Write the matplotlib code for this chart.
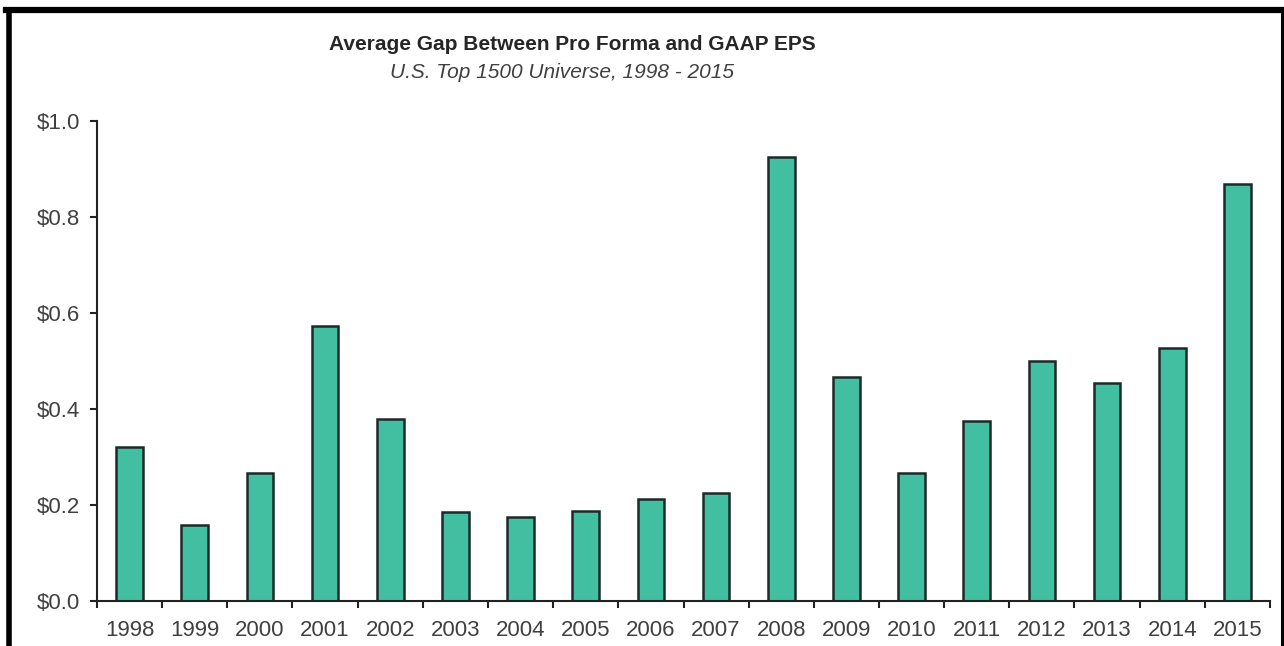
import numpy as np
import matplotlib
matplotlib.use("Agg")
import matplotlib.pyplot as plt
from matplotlib.lines import Line2D
from matplotlib.ticker import FuncFormatter

years = ["1998", "1999", "2000", "2001", "2002", "2003", "2004", "2005", "2006",
         "2007", "2008", "2009", "2010", "2011", "2012", "2013", "2014", "2015"]
gap = [0.32, 0.158, 0.267, 0.573, 0.379, 0.185, 0.175, 0.188, 0.212,
       0.225, 0.925, 0.467, 0.267, 0.375, 0.50, 0.454, 0.527, 0.869]
yticks = [0.0, 0.2, 0.4, 0.6, 0.8, 1.0]

plt.rcParams['font.family'] = ['Liberation Sans', 'DejaVu Sans']

W, H = 1284, 646
fig = plt.figure(figsize=(W / 100, H / 100), dpi=100)
ax = fig.add_axes([97 / W, 1 - 601 / H, (1270 - 97) / W, (601 - 121) / H])

x = np.arange(len(years))
ax.bar(x, gap, width=0.41, color='#42BFA0', edgecolor='#1c2b28', linewidth=1.8)

ax.set_xlim(-0.5, len(years) - 0.5)
ax.set_ylim(0, 1.0)
ax.set_yticks(yticks)
ax.yaxis.set_major_formatter(FuncFormatter(lambda v, p: "${:.1f}".format(v)))

# category labels centred under bars, tick marks between categories
ax.set_xticks(np.arange(len(years) + 1) - 0.5)
ax.set_xticklabels([])
ax.set_xticks(x, minor=True)
ax.set_xticklabels(years, minor=True)
ax.tick_params(axis='x', which='minor', length=0, pad=14, labelsize=16, labelcolor='#404040')
ax.tick_params(axis='x', which='major', length=5, width=1.5, direction='out', color='#222222')
ax.tick_params(axis='y', length=5, width=1.5, pad=7, labelsize=16, labelcolor='#404040', color='#222222')

for s in ['top', 'right']:
    ax.spines[s].set_visible(False)
for s in ['left', 'bottom']:
    ax.spines[s].set_linewidth(1.5)
    ax.spines[s].set_color('#222222')

fig.text(572 / W, 1 - 45 / H, "Average Gap Between Pro Forma and GAAP EPS",
         ha='center', va='center', fontsize=15, fontweight='bold', color='#262626')
fig.text(562 / W, 1 - 73 / H, "U.S. Top 1500 Universe, 1998 - 2015",
         ha='center', va='center', fontsize=15, fontstyle='italic', color='#404040')

# outer frame: heavy top and left edges, thin right edge
def px(xp, yp):
    return [v / W for v in xp], [1 - v / H for v in yp]

fx, fy = px([8.5, 8.5], [H, 10])
fig.add_artist(Line2D(fx, fy, color='black', linewidth=4, transform=fig.transFigure))
fx, fy = px([6, 1283], [10, 10])
fig.add_artist(Line2D(fx, fy, color='black', linewidth=4.5, transform=fig.transFigure))
fx, fy = px([1281.5, 1281.5], [10, H])
fig.add_artist(Line2D(fx, fy, color='black', linewidth=2.2, transform=fig.transFigure))

fig.savefig("out.png", dpi=100)
